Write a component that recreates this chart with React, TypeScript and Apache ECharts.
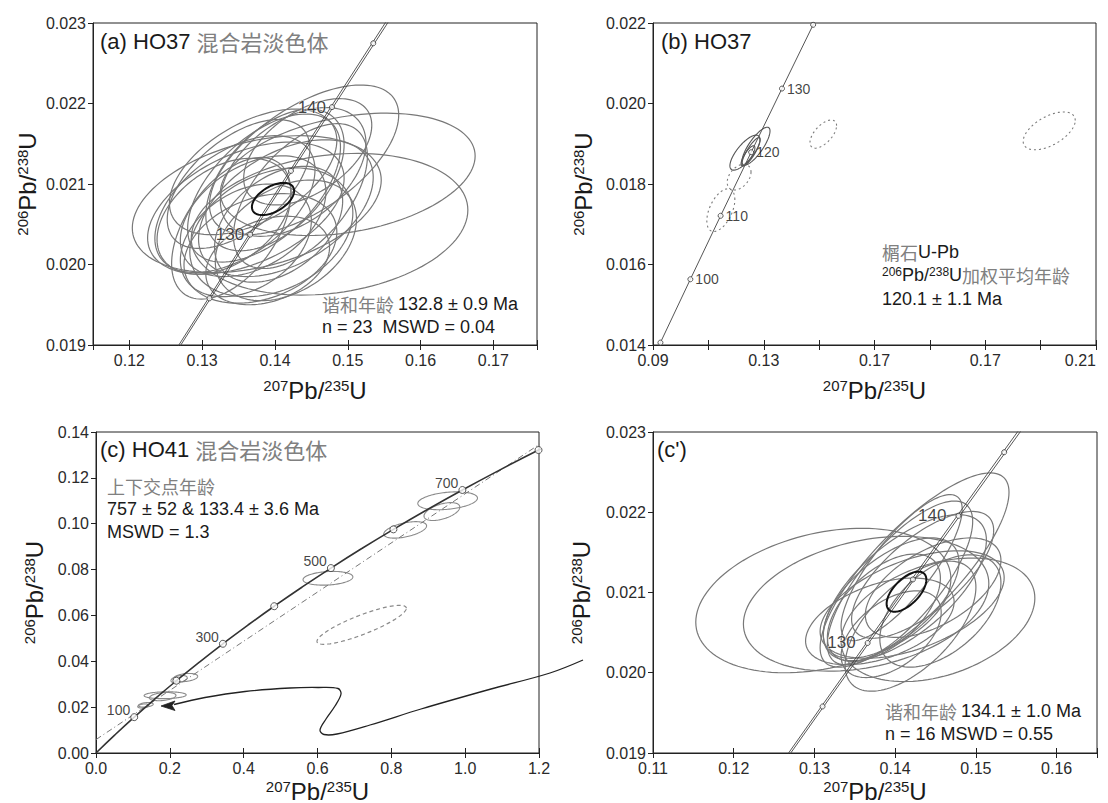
import React, { useEffect, useRef } from 'react';
import * as echarts from 'echarts';

// ---- decay constants (per year) ----
const L238 = 1.55125e-10;
const L235 = 9.8485e-10;
const LAMBDA_BAND = 0.001; // relative half-width of concordia band (decay-constant error)

// ---- concordia ages (Ma) ----
const concLineAgesA = [115, 120, 125, 130, 135, 140, 145, 150, 155];
const concMarkAgesA = [125, 130, 135, 140, 145];
const concLabelAgesA = [130, 140];

const concLineAgesB = [85, 90, 100, 110, 120, 130, 140, 150];
const concMarkAgesB = [90, 100, 110, 120, 130, 140];
const concLabelAgesB = [100, 110, 120, 130];

const concLineAgesC = [0, 50, 100, 150, 200, 250, 300, 350, 400, 450, 500, 550, 600, 650, 700, 750, 800, 850];
const concMarkAgesC = [100, 200, 300, 400, 500, 600, 700, 800];
const concLabelAgesC = [100, 300, 500, 700];
const interceptAgesC = [133.4, 757];

// ---- error ellipses: [207Pb/235U, 206Pb/238U, err x, err y, rho] ----
const ellipsesA = [
  [0.1375, 0.02075, 0.0171, 0.00085, 0.35],
  [0.1500, 0.02112, 0.0175, 0.00076, 0.30],
  [0.1475, 0.02050, 0.0190, 0.00088, 0.20],
  [0.1440, 0.02130, 0.0130, 0.00093, 0.60],
  [0.1385, 0.02095, 0.0105, 0.00092, 0.55],
  [0.1345, 0.02075, 0.0110, 0.00085, 0.50],
  [0.1400, 0.02105, 0.0095, 0.00088, 0.50],
  [0.1370, 0.02060, 0.0100, 0.00075, 0.40],
  [0.1395, 0.02040, 0.0112, 0.00080, 0.30],
  [0.1360, 0.02030, 0.0090, 0.00070, 0.35],
  [0.1415, 0.02070, 0.0120, 0.00085, 0.45],
  [0.1350, 0.02100, 0.0098, 0.00080, 0.55],
  [0.1425, 0.02115, 0.0100, 0.00080, 0.45],
  [0.1380, 0.02020, 0.0105, 0.00068, 0.30],
  [0.1340, 0.02045, 0.0082, 0.00088, 0.50],
  [0.1405, 0.02050, 0.0088, 0.00072, 0.40],
  [0.1370, 0.02115, 0.0115, 0.00078, 0.50],
  [0.1435, 0.02085, 0.0092, 0.00090, 0.55],
  [0.1360, 0.02070, 0.0135, 0.00082, 0.45],
  [0.1415, 0.02030, 0.0097, 0.00075, 0.35],
  [0.1330, 0.02060, 0.0092, 0.00072, 0.40],
  [0.1445, 0.02140, 0.0088, 0.00066, 0.50],
  [0.1390, 0.02005, 0.0085, 0.00055, 0.30],
];
const meanEllipseA = [[0.13973, 0.020814, 0.0029, 0.00020, 0.5]];

const ellipsesBSolid = [
  [0.1232, 0.01878, 0.00542, 0.000435, 0.75],
  [0.1272, 0.01894, 0.00506, 0.00047, 0.80],
  [0.1254, 0.01880, 0.0033, 0.00035, 0.85],
  [0.1243, 0.01870, 0.0025, 0.00025, 0.80],
];
const ellipsesBDotted = [
  [0.1515, 0.01924, 0.0048, 0.00035, 0.60],
  [0.2331, 0.01932, 0.0094, 0.00047, 0.55],
  [0.1145, 0.01735, 0.00506, 0.00053, 0.50],
  [0.1211, 0.01817, 0.0043, 0.00032, 0.40],
];

const ellipsesC = [
  [0.9525, 0.1100, 0.0808, 0.0039, 0.30],
  [0.9370, 0.1053, 0.0485, 0.0039, 0.50],
  [0.8375, 0.0973, 0.0580, 0.0036, 0.50],
  [0.6283, 0.0762, 0.0675, 0.0030, 0.20],
  [0.2424, 0.0329, 0.0330, 0.0018, 0.30],
  [0.2250, 0.0322, 0.0220, 0.0016, 0.40],
  [0.1873, 0.0252, 0.0570, 0.0015, 0.10],
  [0.1806, 0.0246, 0.0360, 0.0018, 0.30],
  [0.1350, 0.0210, 0.0200, 0.0010, 0.30],
  [0.1280, 0.0205, 0.0150, 0.0009, 0.30],
];
const ellipsesCDashed = [[0.7196, 0.0559, 0.121, 0.0085, 0.85]];

const ellipsesCp = [
  [0.1311, 0.02090, 0.0158, 0.00090, 0.30],
  [0.1364, 0.02086, 0.0152, 0.00084, 0.30],
  [0.1453, 0.02066, 0.0120, 0.00077, 0.35],
  [0.1424, 0.02128, 0.0117, 0.00121, 0.80],
  [0.1419, 0.02058, 0.0081, 0.00081, 0.60],
  [0.1406, 0.02112, 0.0090, 0.00102, 0.75],
  [0.1412, 0.02106, 0.0101, 0.00091, 0.65],
  [0.1395, 0.02093, 0.0084, 0.00075, 0.60],
  [0.1434, 0.02122, 0.0088, 0.00079, 0.70],
  [0.1386, 0.02081, 0.0070, 0.00067, 0.55],
  [0.1421, 0.02085, 0.0114, 0.00067, 0.50],
  [0.1447, 0.02106, 0.0084, 0.00062, 0.55],
  [0.1381, 0.02064, 0.0092, 0.00054, 0.45],
  [0.1408, 0.02131, 0.0075, 0.00091, 0.80],
  [0.1456, 0.02077, 0.0075, 0.00070, 0.50],
  [0.1395, 0.02048, 0.0062, 0.00054, 0.50],
];
const meanEllipseCp = [[0.1414, 0.02101, 0.00246, 0.00025, 0.6]];

const tickLabelsBX = ['0.09', '0.13', '0.17', '0.17', '0.21'];

// ---- style constants ----
const FONT = "'Liberation Sans', Arial, sans-serif";
const CJK = "'Noto Sans CJK SC', 'Noto Sans CJK JP', sans-serif";
const TXT = '#1a1a1a';
const GRAY_TXT = '#808080';
const AX = '#222';

const r206 = (t: number) => Math.exp(L238 * t * 1e6) - 1;
const r207 = (t: number, f = 1) => Math.exp(L235 * f * t * 1e6) - 1;
const isMult = (v: number, step: number) => Math.abs(v / step - Math.round(v / step)) < 1e-6;

const axisNameRich = {
  s: { fontSize: 15, fontFamily: FONT, color: TXT, verticalAlign: 'top', lineHeight: 14 },
  m: { fontSize: 24, fontFamily: FONT, color: TXT, lineHeight: 24 },
};
const name207 = '{s|207}{m|Pb/}{s|235}{m|U}';
const name206 = '{s|206}{m|Pb/}{s|238}{m|U}';

function baseAxis(gi: number, min: number, max: number) {
  return {
    type: 'value',
    gridIndex: gi,
    min,
    max,
    splitLine: { show: false },
    axisLine: { show: true, onZero: false, lineStyle: { color: AX, width: 1 } },
    axisTick: { show: true, inside: false, length: 5, lineStyle: { color: AX, width: 1 } },
    axisLabel: { color: '#2a2a2a', fontSize: 16, fontFamily: FONT, margin: 7 },
  };
}

function xAxisPair(gi: number, min: number, max: number, extra: any, formatter: any, gap: number, labelExtra: any = {}) {
  const main: any = {
    ...baseAxis(gi, min, max),
    ...extra,
    position: 'bottom',
    name: name207,
    nameLocation: 'middle',
    nameGap: gap,
    nameTextStyle: { rich: axisNameRich },
  };
  main.axisLabel = { ...main.axisLabel, formatter, ...labelExtra };
  const inner: any = {
    ...baseAxis(gi, min, max),
    ...extra,
    position: 'bottom',
    axisLine: { show: false },
    axisLabel: { show: false },
    axisTick: { show: true, inside: true, length: 5, lineStyle: { color: AX, width: 1 } },
  };
  return [main, inner];
}

function yAxisOf(gi: number, min: number, max: number, interval: number, digits: number, gap: number) {
  const a: any = {
    ...baseAxis(gi, min, max),
    interval,
    position: 'left',
    name: name206,
    nameLocation: 'middle',
    nameRotate: 90,
    nameGap: gap,
    nameTextStyle: { rich: axisNameRich },
  };
  a.axisLabel = { ...a.axisLabel, formatter: (v: number) => v.toFixed(digits) };
  return a;
}

function ellipseSeries(gi: number, data: number[][], color: string, width: number, dash: any, z = 2) {
  return {
    type: 'custom',
    coordinateSystem: 'cartesian2d',
    xAxisIndex: gi,
    yAxisIndex: gi,
    clip: true,
    silent: true,
    z,
    encode: { x: 0, y: 1 },
    data,
    renderItem: (_p: any, api: any) => {
      const cx = api.value(0), cy = api.value(1), sx = api.value(2), sy = api.value(3), rho = api.value(4);
      const k = Math.sqrt(Math.max(0, 1 - rho * rho));
      const pts: number[][] = [];
      const N = 120;
      for (let i = 0; i < N; i++) {
        const th = (i / N) * Math.PI * 2;
        pts.push(api.coord([cx + sx * Math.cos(th), cy + sy * (rho * Math.cos(th) + k * Math.sin(th))]));
      }
      return {
        type: 'polygon',
        shape: { points: pts },
        style: { fill: 'none', stroke: color, lineWidth: width, lineDash: dash },
      };
    },
  };
}

function concLine(gi: number, ages: number[], f: number, color: string, width: number, smooth = false) {
  return {
    type: 'line',
    xAxisIndex: gi,
    yAxisIndex: gi,
    data: ages.map((t) => [r207(t, f), r206(t)]),
    showSymbol: false,
    symbol: 'none',
    smooth,
    clip: true,
    silent: true,
    z: 3,
    lineStyle: { color, width },
  };
}

function markers(gi: number, ages: number[], labeled: number[], size: number, label: any) {
  return {
    type: 'scatter',
    xAxisIndex: gi,
    yAxisIndex: gi,
    symbol: 'circle',
    symbolSize: size,
    clip: false,
    silent: true,
    z: 5,
    itemStyle: { color: '#fff', borderColor: '#333', borderWidth: 1 },
    label: {
      show: false,
      formatter: (p: any) => String(p.value[2]),
      fontFamily: FONT,
      color: '#111',
      ...label,
    },
    data: ages.map((t) => ({ value: [r207(t), r206(t), t], label: { show: labeled.includes(t) } })),
  };
}

function gRich(size: number) {
  return {
    k: { fontSize: size, fontFamily: FONT, fill: TXT },
    g: { fontSize: size, fontFamily: CJK, fill: GRAY_TXT },
    s: { fontSize: Math.round(size * 0.65), fontFamily: FONT, fill: TXT, verticalAlign: 'top' },
  };
}

function gText(x: number, y: number, text: string, size: number) {
  return {
    type: 'text',
    x,
    y,
    z: 60,
    silent: true,
    style: { text, rich: gRich(size), align: 'left', verticalAlign: 'top', fontSize: size, fontFamily: FONT, fill: TXT },
  };
}

function buildOption() {
  const grids = [
    { left: 93, top: 23, width: 444, height: 322 },
    { left: 653, top: 23, width: 443, height: 322 },
    { left: 96, top: 432, width: 443, height: 321 },
    { left: 653, top: 432, width: 444, height: 321 },
  ].map((g) => ({
    ...g,
    show: true,
    borderColor: AX,
    borderWidth: 1,
    backgroundColor: 'transparent',
    containLabel: false,
    outerBoundsMode: 'none',
  }));

  const fmt2 = (v: number) => (isMult(v, 0.01) ? v.toFixed(2) : '');
  const fmtB = (v: number) => {
    const k = Math.round((v - 0.09) / 0.02);
    if (Math.abs(v - (0.09 + k * 0.02)) > 1e-6 || k % 2 !== 0) return '';
    return tickLabelsBX[k / 2] ?? '';
  };
  const fmt1 = (v: number) => v.toFixed(1);

  const xa = xAxisPair(0, 0.115, 0.176, { minInterval: 0.01, maxInterval: 0.01 }, fmt2, 33);
  const xb = xAxisPair(1, 0.09, 0.25, { interval: 0.02 }, fmtB, 33, { alignMaxLabel: 'right' });
  const xc = xAxisPair(2, 0, 1.2, { interval: 0.2 }, fmt1, 26);
  const xcp = xAxisPair(3, 0.11, 0.165, { interval: 0.01 }, fmt2, 26);

  const xAxis = [xa[0], xb[0], xc[0], xcp[0], xa[1], xb[1], xc[1], xcp[1]];
  const yAxis = [
    yAxisOf(0, 0.019, 0.023, 0.001, 3, 54),
    yAxisOf(1, 0.014, 0.022, 0.002, 3, 58),
    yAxisOf(2, 0, 0.14, 0.02, 2, 50),
    yAxisOf(3, 0.019, 0.023, 0.001, 3, 60),
  ];

  // discordia through the two intercepts
  const lo = [r207(interceptAgesC[0]), r206(interceptAgesC[0])];
  const up = [r207(interceptAgesC[1]), r206(interceptAgesC[1])];
  const slope = (up[1] - lo[1]) / (up[0] - lo[0]);
  const discordia = [0, 1.25].map((x) => [x, lo[1] + (x - lo[0]) * slope]);

  const ELL = '#787878';
  const series: any[] = [
    // (a)
    ellipseSeries(0, ellipsesA, ELL, 1.2, null),
    concLine(0, concLineAgesA, 1 - LAMBDA_BAND, '#444', 0.9),
    concLine(0, concLineAgesA, 1 + LAMBDA_BAND, '#444', 0.9),
    ellipseSeries(0, meanEllipseA, '#111', 2, null, 4),
    markers(0, concMarkAgesA, concLabelAgesA, 5, {
      position: 'left', distance: 3, fontSize: 17, textBorderColor: 'rgba(255,255,255,0.7)', textBorderWidth: 1.5,
    }),
    // (b)
    ellipseSeries(1, ellipsesBSolid, '#555', 1.1, null),
    ellipseSeries(1, ellipsesBDotted, '#7a7a7a', 1.1, [2, 3]),
    concLine(1, concLineAgesB, 1, '#555', 1),
    markers(1, concMarkAgesB, concLabelAgesB, 5, { position: 'right', distance: 2, fontSize: 14 }),
    // (c)
    ellipseSeries(2, ellipsesC, '#8a8a8a', 1.1, null),
    ellipseSeries(2, ellipsesCDashed, '#8a8a8a', 1.2, [4, 3]),
    {
      type: 'line', xAxisIndex: 2, yAxisIndex: 2, data: discordia, showSymbol: false, symbol: 'none',
      clip: true, silent: true, z: 3, lineStyle: { color: '#777', width: 1, type: [6, 3, 1, 3] },
    },
    concLine(2, concLineAgesC, 1, '#333', 1.6, true),
    markers(2, concMarkAgesC, concLabelAgesC, 7, { position: 'left', distance: 0, offset: [0, -7], fontSize: 14 }),
    // (c')
    ellipseSeries(3, ellipsesCp, ELL, 1.2, null),
    concLine(3, concLineAgesA, 1 - LAMBDA_BAND, '#444', 0.9),
    concLine(3, concLineAgesA, 1 + LAMBDA_BAND, '#444', 0.9),
    ellipseSeries(3, meanEllipseCp, '#111', 2, null, 4),
    markers(3, concMarkAgesA, concLabelAgesA, 5, {
      position: 'left', distance: 9, fontSize: 17, textBorderColor: 'rgba(255,255,255,0.7)', textBorderWidth: 1.5,
    }),
  ];

  const connector = [
    [583, 660], [550, 673], [491, 689], [421, 709], [370, 725], [337, 734], [324, 734.5], [320, 730],
    [326, 719], [335, 706], [341, 694], [338, 688.5], [318, 687.5], [290, 688], [245, 691.5], [205, 697.5], [174, 704.5],
  ];

  const graphic: any[] = [
    gText(100, 30, '{k|(a) HO37 }{g|混合岩淡色体}', 22),
    gText(322, 295, '{g|谐和年龄 }{k|132.8 ± 0.9 Ma}', 18),
    gText(322, 318, '{k|n = 23  MSWD = 0.04}', 18),
    gText(661, 30, '{k|(b) HO37}', 22),
    gText(882, 243, '{g|榍石}{k|U-Pb}', 18),
    gText(882, 266, '{s|206}{k|Pb/}{s|238}{k|U}{g|加权平均年龄}', 18),
    gText(882, 290, '{k|120.1 ± 1.1 Ma}', 18),
    gText(100, 438, '{k|(c) HO41 }{g|混合岩淡色体}', 22),
    gText(107, 477, '{g|上下交点年龄}', 18),
    gText(107, 500, '{k|757 ± 52 & 133.4 ± 3.6 Ma}', 18),
    gText(107, 523, '{k|MSWD = 1.3}', 18),
    gText(657, 438, '{k|(c\')}', 22),
    gText(885, 702, '{g|谐和年龄 }{k|134.1 ± 1.0 Ma}', 18),
    gText(885, 725, '{k|n = 16 MSWD = 0.55}', 18),
    {
      type: 'polyline', z: 50, silent: true,
      shape: { points: connector, smooth: 0.35 },
      style: { stroke: '#222', lineWidth: 1.3, fill: 'none' },
    },
    {
      type: 'polygon', z: 51, silent: true,
      shape: { points: [[161, 706], [175, 701], [172, 705.5], [175, 710.5]] },
      style: { fill: '#222', stroke: '#222', lineWidth: 0.8 },
    },
  ];

  return {
    animation: false,
    backgroundColor: '#fff',
    grid: grids,
    xAxis,
    yAxis,
    series,
    graphic,
  };
}

export default function App() {
  const ref = useRef<HTMLDivElement>(null);
  useEffect(() => {
    if (!ref.current) return;
    const chart = echarts.init(ref.current, undefined, { renderer: 'svg' });
    chart.setOption(buildOption() as any);
    return () => chart.dispose();
  }, []);
  return (
    <div
      ref={ref}
      style={{ position: 'absolute', left: 0, top: 0, width: 1108, height: 803, background: '#fff' }}
    />
  );
}
